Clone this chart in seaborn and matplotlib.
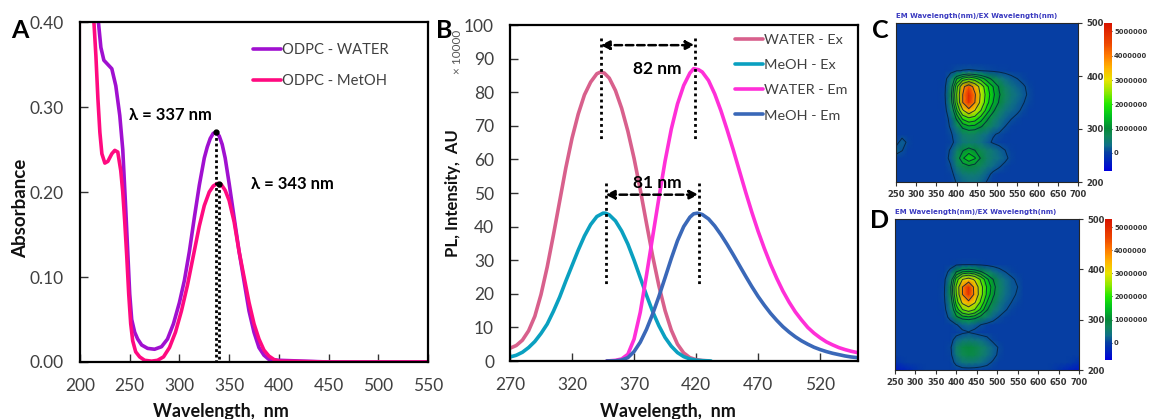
import numpy as np
import pandas as pd
import seaborn as sns
import matplotlib.pyplot as plt
from matplotlib.colors import LinearSegmentedColormap

W, H = 1149, 419
sns.set_style('white')
plt.rcParams['font.family'] = ['Lato', 'DejaVu Sans']

# Panel A - absorbance
water_x = [218.5, 221, 224, 228, 232, 236, 240, 243, 246, 248, 250, 252, 255, 258, 262, 268, 275, 282, 288, 294,
           300, 305, 310, 315, 320, 325, 328, 331, 334, 337, 340, 343, 346, 350, 355, 360, 365, 370, 375, 380, 385, 390,
           400, 425, 450, 550]
water_y = [.40, .37, .355, .35, .345, .325, .29, .25, .18, .13, .08, .05, .035, .027, .02, .016, .015, .018, .027, .045,
           .07, .096, .13, .17, .208, .24, .253, .263, .269, .27, .266, .256, .24, .21, .17, .13, .095, .06, .035, .017, .008, .003,
           .002, .001, 0, 0]
metoh_x = [214, 216, 218, 220, 222, 225, 228, 232, 235, 238, 241, 243, 245, 247, 249, 251, 253, 256, 260, 265,
           272, 278, 284, 290, 296, 302, 308, 314, 320, 325, 330, 334, 338, 342, 346, 350, 355, 360, 365, 370, 375,
           380, 385, 390, 395, 400, 450, 550]
metoh_y = [.40, .36, .31, .27, .245, .234, .236, .245, .249, .247, .225, .2, .165, .125, .08, .045, .025, .012, .006, .002,
           .001, .002, .006, .017, .035, .06, .09, .125, .16, .184, .2, .207, .21, .209, .202, .19, .165, .13, .1, .07, .045,
           .027, .014, .007, .003, .001, 0, 0]
metoh_edge_x = [200, 200]
metoh_edge_y = [.32, .40]

# Panel B - PL spectra
wex_x = [270, 275, 280, 285, 290, 295, 300, 305, 310, 315, 320, 325, 330, 335, 340, 343, 346, 350, 355, 360, 365, 370,
         375, 380, 385, 390, 395, 400, 405, 410, 415, 420, 425, 430]
wex_y = [3.8, 4.6, 6.2, 9, 13.3, 19.8, 28, 37.5, 47.5, 57.5, 66.3, 73.5, 79.2, 83, 85.5, 86, 85.7, 84.2, 80.5, 75.2, 68.4, 60.3,
         51, 41, 31.2, 22.4, 15, 9.2, 5, 2.4, 1, .4, .15, .05]
mex_x = [270, 275, 280, 285, 290, 295, 300, 305, 310, 315, 320, 325, 330, 335, 340, 345, 347, 350, 355, 360, 365, 370,
         375, 380, 385, 390, 395, 400, 405, 410, 415, 420, 425, 432]
mex_y = [1.2, 1.7, 2.6, 4, 5.8, 8.2, 11, 14.8, 19, 23.8, 28.4, 33, 37.2, 40.6, 43, 44, 44, 43.5, 41.7, 38.7, 34.8, 30,
         24.8, 19.6, 14.7, 10.5, 7, 4.4, 2.5, 1.3, .6, .25, .1, 0]
wem_x = [348, 355, 360, 365, 370, 375, 380, 385, 390, 395, 400, 405, 410, 415, 418, 422, 425, 430, 435, 440, 445, 450,
         455, 460, 465, 470, 475, 480, 485, 490, 495, 500, 505, 510, 515, 520, 525, 530, 535, 540, 545, 550]
wem_y = [0, .2, .6, 2, 6.5, 14.5, 25.5, 37, 48.5, 59.5, 69, 76.5, 82, 85.7, 87, 86.7, 86, 83.5, 79.5, 74.5, 68.8, 62.8,
         56.5, 50.2, 44.2, 38.6, 33.5, 28.8, 24.6, 20.8, 17.5, 14.6, 12.2, 10, 8.3, 6.9, 5.7, 4.8, 4, 3.4, 2.9, 2.5]
mem_x = [348, 355, 360, 365, 370, 375, 380, 385, 390, 395, 400, 405, 410, 415, 418, 421, 425, 430, 435, 440, 445, 450,
         455, 460, 465, 470, 475, 480, 485, 490, 495, 500, 505, 510, 515, 520, 525, 530, 535, 540, 545, 550]
mem_y = [0, .05, .3, 1, 2.8, 5.6, 9.4, 14, 19.2, 24.8, 30.5, 35.8, 40, 42.8, 43.8, 44, 43.6, 42.3, 40.2, 37.6, 34.7, 31.6,
         28.4, 25.2, 22.1, 19.2, 16.6, 14.2, 12.1, 10.2, 8.6, 7.2, 6, 5, 4.1, 3.4, 2.8, 2.3, 1.9, 1.5, 1.2, 1]

# Panels C, D - emission/excitation maps, millions of counts
em_nm = list(range(250, 701, 15))
ex_nm = list(range(200, 501, 15))
core_em = [370, 385, 400, 415, 430, 445, 460, 475, 490, 505, 520, 535, 550, 565, 580]
core_ex = [200, 215, 230, 245, 260, 275, 290, 305, 320, 335, 350, 365, 380, 395, 410]
core_c = [
    [0, 0, .14, .25, .3, .3, .25, .1, 0, 0, 0, 0, 0, 0, 0],
    [0, .02, .25, .45, .5, .5, .4, .22, .05, 0, 0, 0, 0, 0, 0],
    [0, .1, .5, .8, .95, .85, .65, .45, .28, .15, .05, 0, 0, 0, 0],
    [0, .2, .7, 1.35, 1.7, 1.45, .95, .6, .42, .3, .18, .05, 0, 0, 0],
    [0, .15, .55, .95, 1.2, 1.0, .75, .55, .4, .25, .12, .03, 0, 0, 0],
    [0, .03, .22, .4, .5, .45, .35, .2, .08, .02, 0, 0, 0, 0, 0],
    [0, .08, .25, .55, .65, .6, .45, .3, .15, .08, .02, 0, 0, 0, 0],
    [0, .15, .55, 1.15, 1.35, 1.3, 1.05, .75, .48, .28, .12, .03, 0, 0, 0],
    [0, .2, 1.1, 1.9, 2.2, 2.05, 1.6, 1.1, .7, .42, .24, .13, .06, 0, 0],
    [0, .4, 1.7, 2.9, 3.6, 3.0, 2.3, 1.6, 1.1, .65, .4, .26, .16, .07, 0],
    [.02, .7, 2.2, 3.9, 4.9, 3.9, 2.75, 1.95, 1.4, .95, .6, .38, .24, .13, .04],
    [.05, .8, 2.3, 3.9, 5.1, 4.0, 2.85, 2.05, 1.5, 1.05, .7, .45, .3, .18, .07],
    [.03, .65, 2.1, 3.7, 4.4, 3.6, 2.65, 1.9, 1.4, .95, .6, .38, .25, .15, .05],
    [0, .35, 1.35, 1.9, 2.2, 1.95, 1.6, 1.2, .85, .55, .32, .2, .12, .05, 0],
    [0, .02, .1, .13, .14, .13, .12, .08, .05, .03, .02, 0, 0, 0, 0],
]
core_d = [
    [0, 0, 0, 0, 0, 0, 0, 0, 0, 0, 0, 0, 0, 0, 0],
    [0, 0, .2, .4, .45, .4, .3, .2, .08, 0, 0, 0, 0, 0, 0],
    [0, .02, .45, .75, .85, .8, .6, .4, .22, .05, 0, 0, 0, 0, 0],
    [0, .05, .55, .85, .95, .85, .65, .45, .25, .08, 0, 0, 0, 0, 0],
    [0, 0, .25, .4, .45, .4, .3, .2, .05, 0, 0, 0, 0, 0, 0],
    [0, 0, 0, .06, .11, .05, 0, 0, 0, 0, 0, 0, 0, 0, 0],
    [0, 0, .1, .25, .3, .22, .12, .03, 0, 0, 0, 0, 0, 0, 0],
    [0, .2, .9, 1.25, 1.35, 1.2, .85, .5, .25, .1, .02, 0, 0, 0, 0],
    [.02, .4, 1.55, 2.3, 2.6, 2.3, 1.7, 1.05, .55, .3, .14, .05, 0, 0, 0],
    [.05, .6, 2.0, 3.2, 3.7, 3.1, 2.2, 1.4, .85, .45, .24, .12, .05, 0, 0],
    [.08, .8, 2.3, 3.9, 4.9, 3.7, 2.5, 1.7, 1.1, .6, .32, .18, .09, 0, 0],
    [.05, .85, 2.4, 3.9, 5.0, 3.6, 2.5, 1.75, 1.2, .65, .36, .2, .12, 0, 0],
    [.02, .6, 2.0, 3.0, 3.3, 2.9, 2.2, 1.5, 1.0, .55, .3, .16, .08, 0, 0],
    [0, .2, 1.0, 1.4, 1.5, 1.35, 1.05, .7, .4, .22, .12, .05, 0, 0, 0],
    [0, 0, .03, .05, .06, .05, .03, .01, 0, 0, 0, 0, 0, 0, 0],
]
# small features outside the main block: (em, ex, value)
extras_c = [(250, 260, .25), (265, 260, .13), (265, 275, .25), (280, 275, .05)]
extras_d = [(250, 200, -.45), (265, 200, -.4), (280, 200, -.3), (295, 200, -.2), (310, 200, -.06),
            (250, 215, -.2), (265, 215, -.08),
            (700, 200, -.45), (685, 200, -.4), (670, 200, -.3), (655, 200, -.2), (640, 200, -.06),
            (700, 215, -.2), (685, 215, -.08)]
cbar_ticks = [0, 1, 2, 3, 4, 5]
cbar_labels = ['0', '1000000', '2000000', '3000000', '4000000', '5000000']
em_tick_nm = list(range(250, 701, 50))
ex_tick_nm = [200, 300, 400, 500]

cmap_stops = [(-.75, '#0000dc'), (-.2, '#0030b0'), (0, '#063fa2'), (.3, '#0f6f88'), (.7, '#108858'), (1, '#058838'),
              (1.5, '#00c020'), (2, '#20e800'), (2.5, '#90e800'), (3, '#e8e400'), (3.5, '#ffb400'), (4, '#ff7c00'),
              (4.5, '#ee4800'), (5.35, '#d81400')]
vmin, vmax = -.75, 5.35
em_cmap = LinearSegmentedColormap.from_list('em', [((v - vmin) / (vmax - vmin), c) for v, c in cmap_stops])
contour_levels = [.12, 1.0, 1.4, 1.8, 2.3, 3.0, 3.9]


def px_axes(fig, left, top, right, bottom):
    return fig.add_axes([left / W, 1 - bottom / H, (right - left) / W, (bottom - top) / H])


def style_axes(ax):
    for s in ax.spines.values():
        s.set_visible(True)
        s.set_color('black')
        s.set_linewidth(1.6)
    ax.tick_params(direction='in', length=6, width=1, color='#333333', labelcolor='#404040',
                   labelsize=12.5, bottom=True, left=True, pad=11.5)


def bold_small(labels):
    for t in labels:
        t.set_fontfamily('DejaVu Sans')
        t.set_fontweight('bold')


def draw_map(fig, box, cbox, core, extras, title):
    ax = px_axes(fig, *box)
    cax = px_axes(fig, *cbox)
    data = pd.DataFrame(0.0, index=ex_nm, columns=em_nm)
    data.loc[core_ex, core_em] = np.array(core)
    for em, ex, v in extras:
        data.loc[ex, em] = v
    sns.heatmap(data, ax=ax, cbar_ax=cax, cmap=em_cmap, vmin=vmin, vmax=vmax, shading='gouraud',
                cbar_kws={'ticks': cbar_ticks})
    ax.contour(np.arange(len(em_nm)), np.arange(len(ex_nm)), data.values, levels=contour_levels,
               colors='#06203a', linewidths=.7, alpha=.85)
    ax.set_xlim(0, len(em_nm) - 1)
    ax.set_ylim(0, len(ex_nm) - 1)
    ax.set_xticks([(n - 250) / 15 for n in em_tick_nm])
    ax.set_xticklabels(em_tick_nm, rotation=0)
    ax.set_yticks([(n - 200) / 15 for n in ex_tick_nm])
    ax.set_yticklabels(ex_tick_nm, rotation=0)
    ax.yaxis.tick_right()
    for s in ax.spines.values():
        s.set_visible(True)
        s.set_linewidth(.8)
    ax.tick_params(axis='both', direction='out', length=3, width=.8, color='#333333', labelcolor='#333333',
                   labelsize=6, pad=3, bottom=True, right=True, left=False)
    bold_small(ax.get_xticklabels() + ax.get_yticklabels())
    ax.set_xlabel('')
    ax.set_ylabel('')
    ax.text(-.002, 1.025, title, transform=ax.transAxes, fontsize=5.0, color='#3a3ac0', fontweight='bold',
            family='DejaVu Sans', va='bottom', ha='left')
    cax.set_yticks(cbar_ticks)
    cax.set_yticklabels(cbar_labels)
    cax.tick_params(axis='y', direction='in', length=3, width=.8, color='#222222', labelcolor='#333333',
                    labelsize=4.9, pad=1.5, right=True)
    bold_small(cax.get_yticklabels())


fig = plt.figure(figsize=(W / 100, H / 100), dpi=100)

# A
ax = px_axes(fig, 80, 22, 428, 362)
lw = 2.6
sns.lineplot(x=water_x, y=water_y, ax=ax, color='#a010d0', lw=lw, sort=False, label='ODPC - WATER')
sns.lineplot(x=metoh_x, y=metoh_y, ax=ax, color='#ff0a80', lw=lw, sort=False, label='ODPC - MetOH')
sns.lineplot(x=metoh_edge_x, y=metoh_edge_y, ax=ax, color='#ff0a80', lw=lw, sort=False)
ax.plot([336.5, 336.5], [.27, 0], color='black', ls=(0, (1, 1)), lw=2)
ax.plot([339.5, 339.5], [.21, 0], color='black', ls=(0, (1, 1)), lw=2)
ax.plot([336.5, 339.5], [.27, .21], 'o', color='black', ms=3.5)
ax.text(249, .291, 'λ = 337 nm', fontsize=12, fontweight='bold', color='black', va='center')
ax.text(372, .21, 'λ = 343 nm', fontsize=12, fontweight='bold', color='black', va='center')
ax.set_xlim(200, 550)
ax.set_ylim(0, .40)
ax.set_xticks(range(200, 551, 50))
ax.set_yticks([0, .1, .2, .3, .4])
ax.set_yticklabels(['0.00', '0.10', '0.20', '0.30', '0.40'])
style_axes(ax)
ax.set_xlabel('Wavelength,  nm', fontsize=13, fontweight='bold', color='#111111')
ax.set_ylabel('Absorbance', fontsize=13.5, fontweight='bold', color='#111111')
ax.xaxis.set_label_coords(.405, -.12)
ax.yaxis.set_label_coords(-.146, .453)
ax.legend(loc='upper left', bbox_to_anchor=(.497, .938), frameon=False, fontsize=10.6, handlelength=1.9,
          handletextpad=.1, labelspacing=1.15, labelcolor='#404040', borderaxespad=0, borderpad=0)

# B
ax = px_axes(fig, 510, 25, 858, 361)
sns.lineplot(x=wex_x, y=wex_y, ax=ax, color='#d8608c', lw=lw, sort=False, label='WATER - Ex')
sns.lineplot(x=mex_x, y=mex_y, ax=ax, color='#0aa0c0', lw=lw, sort=False, label='MeOH - Ex')
sns.lineplot(x=wem_x, y=wem_y, ax=ax, color='#ff2fd8', lw=lw, sort=False, label='WATER - Em')
sns.lineplot(x=mem_x, y=mem_y, ax=ax, color='#3a68b8', lw=lw, sort=False, label='MeOH - Em')
for xv, y0, y1 in [(343, 96, 66), (419, 96, 66), (347, 53, 23), (422, 53, 23)]:
    ax.plot([xv, xv], [y0, y1], color='black', ls=(0, (1, 1.2)), lw=2)
for x0, x1, yv in [(343, 419, 94), (347, 422, 49.5)]:
    ax.annotate('', xy=(x1, yv), xytext=(x0, yv),
                arrowprops=dict(arrowstyle='<|-|>', color='black', lw=1.8, ls=(0, (3, 1.5)), shrinkA=0, shrinkB=0,
                                mutation_scale=13))
ax.text(388.5, 87, '82 nm', fontsize=12.5, fontweight='bold', color='black', ha='center', va='center')
ax.text(388.5, 53, '81 nm', fontsize=12.5, fontweight='bold', color='black', ha='center', va='center')
ax.set_xlim(270, 550.5)
ax.set_ylim(0, 100)
ax.set_xticks(range(270, 521, 50))
ax.set_yticks(range(0, 101, 10))
style_axes(ax)
ax.set_xlabel('Wavelength,  nm', fontsize=13, fontweight='bold', color='#111111')
ax.set_ylabel('PL, Intensity,  AU', fontsize=12, fontweight='bold', color='#111111')
ax.xaxis.set_label_coords(.454, -.125)
ax.yaxis.set_label_coords(-.141, .5)
ax.legend(loc='upper left', bbox_to_anchor=(.647, .973), frameon=False, fontsize=10.4, handlelength=1.9,
          handletextpad=.1, labelspacing=.9, labelcolor='#404040', borderaxespad=0, borderpad=0)
fig.text(458 / W, 1 - 52 / H, '× 10000', rotation=90, fontsize=8.5, color='#555555', ha='center', va='center')

# C, D
title = 'EM Wavelength(nm)/EX Wavelength(nm)'
draw_map(fig, (896, 23, 1078, 182), (1104, 23, 1112, 171), core_c, extras_c, title)
draw_map(fig, (895, 219, 1079, 370), (1105, 219, 1112, 360), core_d, extras_d, title)

for letter, xp, yp in [('A', 20, 30), ('B', 444, 30), ('C', 880, 30), ('D', 880, 220)]:
    fig.text(xp / W, 1 - yp / H, letter, fontsize=18, fontweight='bold', color='black', ha='center', va='center')

fig.savefig('out.png', dpi=100)
